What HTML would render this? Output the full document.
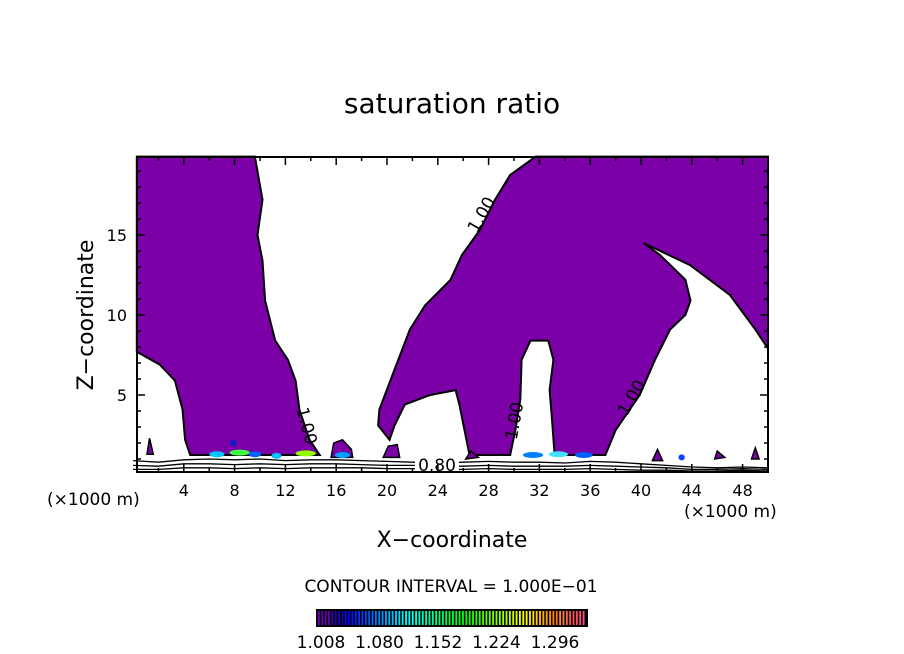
<!DOCTYPE html>
<html><head><meta charset="utf-8"><style>
body{margin:0;background:#fff;width:904px;height:654px;overflow:hidden;font-family:"Liberation Sans","DejaVu Sans",sans-serif}
</style></head><body>
<svg id="c" width="904" height="654" viewBox="0 0 904 654" style="position:absolute;left:0;top:0">
<text x="452" y="113" font-size="28" text-anchor="middle" font-family="DejaVu Sans, sans-serif">saturation ratio</text>
<g id="plot"></g>
<text x="452" y="547" font-size="22" text-anchor="middle" font-family="DejaVu Sans, sans-serif">X−coordinate</text>
<text transform="translate(93,315) rotate(-90)" font-size="22" text-anchor="middle" font-family="DejaVu Sans, sans-serif">Z−coordinate</text>
<text x="47" y="505" font-size="17" font-family="DejaVu Sans, sans-serif">(×1000 m)</text>
<text x="684" y="517" font-size="17" font-family="DejaVu Sans, sans-serif">(×1000 m)</text>
<text x="451" y="592" font-size="17" text-anchor="middle" font-family="DejaVu Sans, sans-serif">CONTOUR INTERVAL = 1.000E−01</text>
<g id="cbar"></g>
</svg>
<script>
const NS='http://www.w3.org/2000/svg';
const xTicks=[4,8,12,16,20,24,28,32,36,40,44,48];
const yTicks=[5,10,15];
const cbLabels=['1.008','1.080','1.152','1.224','1.296'];
const leftBlob=[[0.3,19.9],[9.6,19.9],[10.2,17.2],[9.8,15],[10.2,13.4],[10.4,10.9],[11.2,8.4],[12.2,7.2],[12.8,5.9],[13.1,4.1],[13.9,2.2],[14.7,1.25],[4.5,1.25],[4.1,2.2],[3.9,4.1],[3.3,5.9],[2.1,6.9],[0.3,7.7]];
const rightBlob=[[31.7,19.9],[50,19.9],[50,7.9],[49,9.1],[47,11.25],[43.9,13.1],[40.2,14.5],[41.5,13.75],[43.5,12.2],[43.9,10.9],[43.5,10],[42.3,9.1],[41.1,7.2],[39.9,5],[38,2.8],[37.2,1.25],[33.2,1.25],[33,3.4],[32.8,5.3],[33.1,7.2],[32.7,8.4],[31.3,8.4],[30.6,7.2],[30.5,4.7],[30.1,2.8],[29.7,1.25],[26.5,1.25],[26.1,2.8],[25.7,4.4],[25.4,5.3],[23.4,5],[21.4,4.4],[20.6,3.1],[20.2,2.2],[19.3,3.1],[19.4,4.1],[20.6,6.6],[21.8,9.1],[23,10.6],[25,12.2],[25.9,13.75],[27.3,15.3],[28.5,17.2],[29.7,18.75]];
const smallBlobs=[[[15.6,1.1],[15.8,2.0],[16.5,2.2],[17.2,1.6],[17.3,1.1]],[[19.7,1.1],[20.1,1.8],[20.8,1.9],[21,1.1]],[[26.2,1.0],[26.6,1.5],[27.2,1.1]],[[45.8,1.0],[46,1.5],[46.6,1.1]],[[48.7,1.0],[49,1.7],[49.3,1.0]],[[40.9,0.9],[41.3,1.6],[41.7,0.9]],[[1.1,1.3],[1.3,2.3],[1.6,1.3]]];
const patchX=[6.6,8.4,9.6,11.3,13.6,16.5,31.5,33.5,35.5,43.2,7.9];
const patchZ=[1.3,1.4,1.3,1.2,1.35,1.25,1.25,1.3,1.25,1.1,2.0];
const patchW=[1.2,1.6,1.0,0.8,1.6,1.2,1.6,1.5,1.4,0.5,0.5];
const patchC=['#00c8ff','#40ff40','#0060ff','#00c0ff','#90ff00','#00a0ff','#0080ff','#40e0ff','#0060ff','#1040ff','#0020c0'];
const lineX=[0,2,4,6,8,10,12,14,16,18,20,22,24,26,28,30,32,34,36,38,40,42,44,46,48,50];
const line1=[0.9,0.8,0.95,1.0,0.95,1.0,0.9,0.95,0.95,0.9,0.85,0.8,0.75,0.8,0.85,0.8,0.8,0.75,0.85,0.8,0.7,0.6,0.5,0.45,0.5,0.45];
const line2=[0.6,0.55,0.7,0.7,0.65,0.7,0.65,0.7,0.7,0.65,0.6,0.6,0.55,0.55,0.6,0.55,0.55,0.55,0.6,0.55,0.5,0.45,0.35,0.35,0.4,0.35];
const line3=[0.35,0.35,0.45,0.45,0.4,0.45,0.4,0.45,0.45,0.45,0.4,0.4,0.35,0.35,0.4,0.35,0.35,0.35,0.4,0.35,0.3,0.3,0.25,0.25,0.3,0.25];
const X=v=>133+12.7*v, Y=v=>475-16*v;
const plot=document.getElementById('plot');
function mk(tag,at,parent){const e=document.createElementNS(NS,tag);for(const k in at)e.setAttribute(k,at[k]);(parent||plot).appendChild(e);return e;}
const pts=a=>a.map(p=>X(p[0]).toFixed(1)+','+Y(p[1]).toFixed(1)).join(' ');
let e;
e=mk('polygon',{points:pts(leftBlob),fill:'#7b00a8',stroke:'#000','stroke-width':2});


e=mk('polygon',{points:pts(rightBlob),fill:'#7b00a8',stroke:'#000','stroke-width':2});


smallBlobs.forEach(b=>{e=mk('polygon',{points:pts(b),fill:'#7b00a8',stroke:'#000','stroke-width':1.5});

});
patchX.forEach((v,i)=>{e=mk('ellipse',{cx:X(v),cy:Y(patchZ[i]),rx:patchW[i]*12.7/2,ry:3,fill:patchC[i]});

});
[line1,line2,line3].forEach(L=>{e=mk('polyline',{points:pts(lineX.map((v,i)=>[v,L[i]])),fill:'none',stroke:'#000','stroke-width':1.3});

});
e=mk('rect',{x:415,y:456,width:44,height:16,fill:'#fff'});
e=mk('text',{x:437,y:471,'font-size':17,'text-anchor':'middle','font-family':'DejaVu Sans, sans-serif'});e.textContent='0.80';


[[482,215,-60],[306,426,75],[515,421,-80],[632,398,-60]].forEach(l=>{e=mk('text',{transform:`translate(${l[0]},${l[1]}) rotate(${l[2]})`,'font-size':17,'text-anchor':'middle','dominant-baseline':'middle','font-family':'DejaVu Sans, sans-serif',fill:'#000'});e.textContent='1.00';

});
e=mk('rect',{x:137,y:157,width:631,height:315,fill:'none',stroke:'#000','stroke-width':2});


for(let v=2;v<50;v+=2){const maj=xTicks.includes(v),l=maj?8:4;
mk('line',{x1:X(v),x2:X(v),y1:472,y2:472-l,stroke:'#000','stroke-width':1.5});
mk('line',{x1:X(v),x2:X(v),y1:157,y2:157+l,stroke:'#000','stroke-width':1.5});}
for(let v=1;v<20;v++){const maj=yTicks.includes(v),l=maj?8:4;
mk('line',{x1:137,x2:137+l,y1:Y(v),y2:Y(v),stroke:'#000','stroke-width':1.5});
mk('line',{x1:768,x2:768-l,y1:Y(v),y2:Y(v),stroke:'#000','stroke-width':1.5});}
xTicks.forEach(v=>{e=mk('text',{x:X(v),y:496,'font-size':16,'text-anchor':'middle','font-family':'DejaVu Sans, sans-serif'});e.textContent=v;

});
yTicks.forEach(v=>{e=mk('text',{x:127,y:Y(v)+6,'font-size':16,'text-anchor':'end','font-family':'DejaVu Sans, sans-serif'});e.textContent=v;

});
const cb=document.getElementById('cbar');
const N=80,x0=316,w=272;
mk('rect',{x:x0,y:609,width:w,height:18,fill:'#000'},cb);
for(let i=0;i<N;i++){const t=i/(N-1);const h=270-t*270+(t>0.9?-(t-0.9)*200:0);
mk('rect',{x:x0+2+i*(w-4)/N,y:611,width:(w-4)/N*0.55,height:14,fill:`hsl(${t<0.05?275:h<0?h+360:h},100%,${t<0.1?35:t>0.9?65:50}%)`},cb);}
cbLabels.forEach((s,i)=>{e=mk('text',{x:321+i*58.5,y:648,'font-size':17,'text-anchor':'middle','font-family':'DejaVu Sans, sans-serif'},cb);e.textContent=s;

});
</script>
</body></html>
